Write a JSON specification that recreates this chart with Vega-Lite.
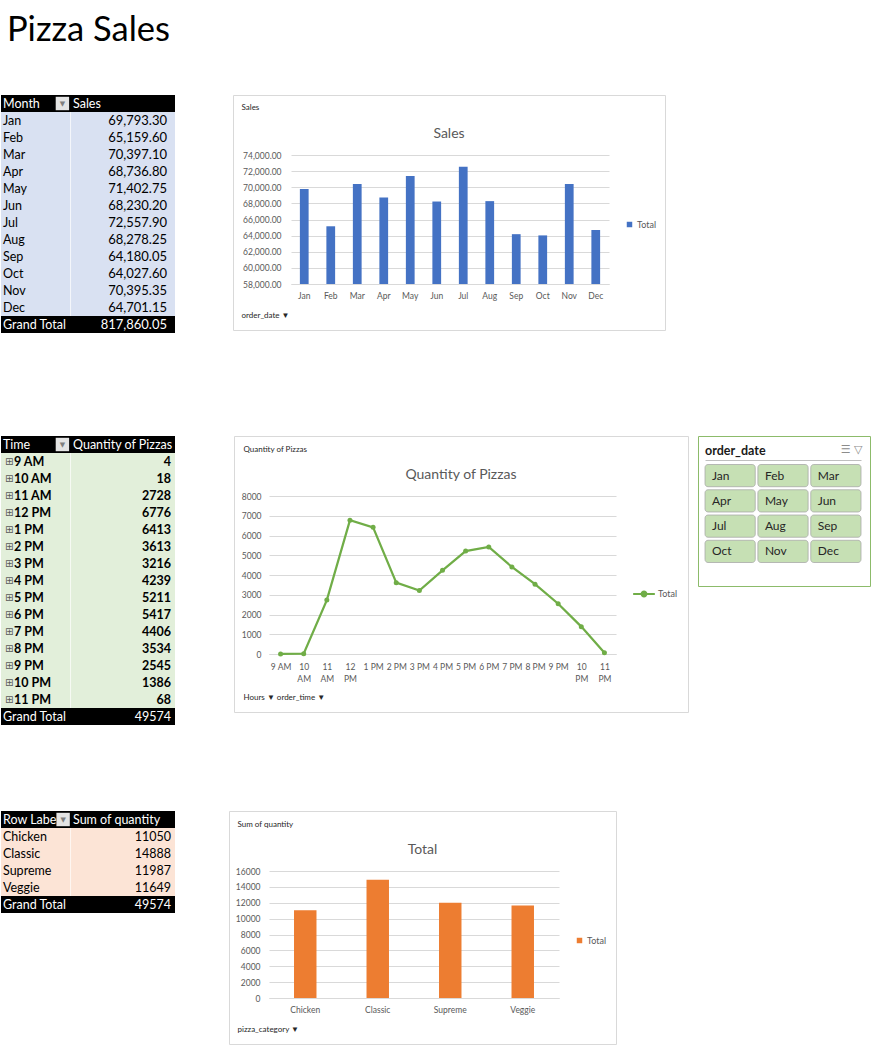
{
  "$schema": "https://vega.github.io/schema/vega-lite/v6.json",
  "background": "white",
  "padding": {"left": 1, "top": 13, "right": 0, "bottom": 0},
  "title": {"text": "Pizza Sales", "anchor": "start", "frame": "group", "dx": 6, "fontSize": 34.5, "font": "Lato", "fontWeight": "normal", "color": "#000000", "baseline": "alphabetic", "offset": 19},
  "config": {"view": {"stroke": null}, "font": "Lato", "axis": {"labelFont": "Lato", "titleFont": "Lato"}, "legend": {"labelFont": "Lato"}, "title": {"font": "Lato"}},
  "datasets": {
    "salesTable": [
      {"row": "Month", "kind": "header"},
      {"row": "Jan", "kind": "body", "value": 69793.30, "quarter": "Q1", "monthInQuarter": 1},
      {"row": "Feb", "kind": "body", "value": 65159.60, "quarter": "Q1", "monthInQuarter": 2},
      {"row": "Mar", "kind": "body", "value": 70397.10, "quarter": "Q1", "monthInQuarter": 3},
      {"row": "Apr", "kind": "body", "value": 68736.80, "quarter": "Q2", "monthInQuarter": 1},
      {"row": "May", "kind": "body", "value": 71402.75, "quarter": "Q2", "monthInQuarter": 2},
      {"row": "Jun", "kind": "body", "value": 68230.20, "quarter": "Q2", "monthInQuarter": 3},
      {"row": "Jul", "kind": "body", "value": 72557.90, "quarter": "Q3", "monthInQuarter": 1},
      {"row": "Aug", "kind": "body", "value": 68278.25, "quarter": "Q3", "monthInQuarter": 2},
      {"row": "Sep", "kind": "body", "value": 64180.05, "quarter": "Q3", "monthInQuarter": 3},
      {"row": "Oct", "kind": "body", "value": 64027.60, "quarter": "Q4", "monthInQuarter": 1},
      {"row": "Nov", "kind": "body", "value": 70395.35, "quarter": "Q4", "monthInQuarter": 2},
      {"row": "Dec", "kind": "body", "value": 64701.15, "quarter": "Q4", "monthInQuarter": 3},
      {"row": "Grand Total", "kind": "total", "value": 817860.05}
    ],
    "hourTable": [
      {"row": "Time", "kind": "header"},
      {"row": "9 AM", "kind": "body", "value": 4},
      {"row": "10 AM", "kind": "body", "value": 18},
      {"row": "11 AM", "kind": "body", "value": 2728},
      {"row": "12 PM", "kind": "body", "value": 6776},
      {"row": "1 PM", "kind": "body", "value": 6413},
      {"row": "2 PM", "kind": "body", "value": 3613},
      {"row": "3 PM", "kind": "body", "value": 3216},
      {"row": "4 PM", "kind": "body", "value": 4239},
      {"row": "5 PM", "kind": "body", "value": 5211},
      {"row": "6 PM", "kind": "body", "value": 5417},
      {"row": "7 PM", "kind": "body", "value": 4406},
      {"row": "8 PM", "kind": "body", "value": 3534},
      {"row": "9 PM", "kind": "body", "value": 2545},
      {"row": "10 PM", "kind": "body", "value": 1386},
      {"row": "11 PM", "kind": "body", "value": 68},
      {"row": "Grand Total", "kind": "total", "value": 49574}
    ],
    "categoryTable": [
      {"row": "Row Labels", "kind": "header"},
      {"row": "Chicken", "kind": "body", "value": 11050},
      {"row": "Classic", "kind": "body", "value": 14888},
      {"row": "Supreme", "kind": "body", "value": 11987},
      {"row": "Veggie", "kind": "body", "value": 11649},
      {"row": "Grand Total", "kind": "total", "value": 49574}
    ]
  },
  "resolve": {"scale": {"x": "independent", "y": "independent", "color": "independent"}, "legend": {"color": "independent"}, "axis": {"x": "independent", "y": "independent"}},
  "spacing": 102,
  "vconcat": [
    {
      "spacing": 57,
      "resolve": {"scale": {"x": "independent", "y": "independent", "color": "independent"}, "legend": {"color": "independent"}, "axis": {"x": "independent", "y": "independent"}},
      "hconcat": [
        {
          "spacing": 0,
          "resolve": {"scale": {"x": "independent", "y": "independent", "color": "independent"}, "axis": {"x": "independent", "y": "independent"}},
          "hconcat": [
            {
              "width": 69, "height": 238,
              "data": {"name": "salesTable"},
              "encoding": {"y": {"field": "row", "type": "nominal", "sort": null, "axis": null, "scale": {"paddingInner": 0, "paddingOuter": 0}}},
              "layer": [
                {"mark": {"type": "rect"}, "encoding": {"x": {"datum": 1, "type": "quantitative", "scale": {"domain": [1, 2]}, "axis": null}, "x2": {"datum": 2}, "fill": {"condition": {"test": "datum.kind == 'body'", "value": "#d9e1f2"}, "value": "#000000"}}},
                {"mark": {"type": "text", "align": "left", "baseline": "middle", "dx": 2, "fontSize": 12.5, "font": "Lato"}, "encoding": {"x": {"datum": 1, "type": "quantitative"}, "text": {"field": "row"}, "color": {"condition": {"test": "datum.kind == 'body'", "value": "#000000"}, "value": "#ffffff"}}},
                {"transform": [{"filter": "datum.kind == 'header'"}], "mark": {"type": "point", "shape": "square", "filled": true, "size": 180, "color": "#e4e4e4", "opacity": 1}, "encoding": {"x": {"datum": 1.89, "type": "quantitative"}}},
                {"transform": [{"filter": "datum.kind == 'header'"}], "mark": {"type": "text", "text": "▼", "fontSize": 7, "color": "#7f7f7f", "baseline": "middle", "font": "DejaVu Sans"}, "encoding": {"x": {"datum": 1.89, "type": "quantitative"}}}
              ]
            },
            {
              "width": 105, "height": 238,
              "data": {"name": "salesTable"},
              "encoding": {"y": {"field": "row", "type": "nominal", "sort": null, "axis": null, "scale": {"paddingInner": 0, "paddingOuter": 0}}},
              "layer": [
                {"mark": {"type": "rect"}, "encoding": {"x": {"datum": 1, "type": "quantitative", "scale": {"domain": [1, 2]}, "axis": null}, "x2": {"datum": 2}, "fill": {"condition": {"test": "datum.kind == 'body'", "value": "#d9e1f2"}, "value": "#000000"}}},
                {"transform": [{"filter": "datum.kind == 'body'"}], "mark": {"type": "rect", "fill": "#f4f6fb"}, "encoding": {"x": {"datum": 1, "type": "quantitative"}, "x2": {"datum": 1.01}}},
                {"transform": [{"filter": "datum.kind == 'header'"}], "mark": {"type": "text", "text": "Sales", "align": "left", "baseline": "middle", "dx": 3, "fontSize": 12.5, "color": "#ffffff", "font": "Lato"}, "encoding": {"x": {"datum": 1, "type": "quantitative"}}},
                {"transform": [{"filter": "datum.kind != 'header'"}], "mark": {"type": "text", "align": "right", "baseline": "middle", "dx": -8, "fontSize": 13, "font": "Lato"}, "encoding": {"x": {"datum": 2, "type": "quantitative"}, "text": {"field": "value", "type": "quantitative", "format": ",.2f"}, "color": {"condition": {"test": "datum.kind == 'body'", "value": "#000000"}, "value": "#ffffff"}}}
              ]
            }
          ]
        },
        {
          "width": 432, "height": 235,
          "view": {"stroke": "#d9d9d9", "fill": "white"},
          "title": {"text": "Sales", "fontSize": 14, "color": "#595959", "font": "Lato", "fontWeight": "normal", "anchor": "middle", "frame": "group", "baseline": "middle", "offset": -53},
          "data": {"name": "salesTable"},
          "transform": [{"filter": "datum.kind == 'body'"}],
          "mark": {"type": "bar", "color": "#4472c4", "width": {"band": 0.33}},
          "encoding": {
            "x": {"field": "row", "type": "nominal", "sort": null, "scale": {"range": [58, 376], "paddingInner": 0, "paddingOuter": 0},
              "axis": {"orient": "bottom", "offset": -46, "domain": true, "domainColor": "#d9d9d9", "ticks": false, "tickSize": 0, "labelPadding": 7, "labelFontSize": 8.5, "labelColor": "#595959", "labelAngle": 0, "grid": false,
                "title": "order_date  ▼", "titleX": 8, "titleY": 31, "titleAlign": "left", "titleBaseline": "middle", "titleFontSize": 8, "titleFontWeight": "normal", "titleColor": "#262626"}},
            "y": {"field": "value", "type": "quantitative", "scale": {"domain": [58000, 74000], "range": [189, 60], "nice": false, "zero": false},
              "axis": {"orient": "left", "offset": -58, "domain": false, "ticks": false, "tickSize": 0, "labelPadding": 10, "values": [58000, 60000, 62000, 64000, 66000, 68000, 70000, 72000, 74000], "format": ",.2f", "labelFontSize": 8.5, "labelColor": "#595959", "grid": true, "gridColor": "#d9d9d9", "gridWidth": 1,
                "title": "Sales", "titleAngle": 0, "titleX": -50, "titleY": 12.5, "titleAlign": "left", "titleBaseline": "middle", "titleFontSize": 8, "titleFontWeight": "normal", "titleColor": "#262626"}},
            "y2": {"datum": 58000},
            "color": {"datum": "Total", "scale": {"range": ["#4472c4"]}, "legend": {"orient": "none", "legendX": 392, "legendY": 125, "symbolType": "square", "symbolSize": 30, "labelFontSize": 9, "labelColor": "#595959", "labelOffset": 3, "title": null, "padding": 0}}
          }
        }
      ]
    },
    {
      "spacing": 85,
      "resolve": {"scale": {"x": "independent", "y": "independent", "color": "independent"}, "legend": {"color": "independent"}, "axis": {"x": "independent", "y": "independent"}},
      "vconcat": [
        {
          "spacing": 58,
          "resolve": {"scale": {"x": "independent", "y": "independent", "color": "independent"}, "legend": {"color": "independent"}, "axis": {"x": "independent", "y": "independent"}},
          "hconcat": [
            {
              "spacing": 0,
              "resolve": {"scale": {"x": "independent", "y": "independent", "color": "independent"}, "axis": {"x": "independent", "y": "independent"}},
              "hconcat": [
                {
                  "width": 69, "height": 289,
                  "data": {"name": "hourTable"},
                  "encoding": {"y": {"field": "row", "type": "nominal", "sort": null, "axis": null, "scale": {"paddingInner": 0, "paddingOuter": 0}}},
                  "layer": [
                    {"mark": {"type": "rect"}, "encoding": {"x": {"datum": 1, "type": "quantitative", "scale": {"domain": [1, 2]}, "axis": null}, "x2": {"datum": 2}, "fill": {"condition": {"test": "datum.kind == 'body'", "value": "#e2efda"}, "value": "#000000"}}},
                    {"transform": [{"filter": "datum.kind != 'body'"}], "mark": {"type": "text", "align": "left", "baseline": "middle", "dx": 2, "fontSize": 12.5, "color": "#ffffff", "font": "Lato"}, "encoding": {"x": {"datum": 1, "type": "quantitative"}, "text": {"field": "row"}}},
                    {"transform": [{"filter": "datum.kind == 'body'"}], "mark": {"type": "text", "text": "⊞", "align": "left", "baseline": "middle", "dx": 4, "fontSize": 10, "color": "#595959", "font": "DejaVu Sans"}, "encoding": {"x": {"datum": 1, "type": "quantitative"}}},
                    {"transform": [{"filter": "datum.kind == 'body'"}], "mark": {"type": "text", "align": "left", "baseline": "middle", "dx": 13, "fontSize": 12.5, "fontWeight": "bold", "color": "#000000", "font": "Lato"}, "encoding": {"x": {"datum": 1, "type": "quantitative"}, "text": {"field": "row"}}},
                    {"transform": [{"filter": "datum.kind == 'header'"}], "mark": {"type": "point", "shape": "square", "filled": true, "size": 180, "color": "#e4e4e4", "opacity": 1}, "encoding": {"x": {"datum": 1.89, "type": "quantitative"}}},
                    {"transform": [{"filter": "datum.kind == 'header'"}], "mark": {"type": "text", "text": "▼", "fontSize": 7, "color": "#7f7f7f", "baseline": "middle", "font": "DejaVu Sans"}, "encoding": {"x": {"datum": 1.89, "type": "quantitative"}}}
                  ]
                },
                {
                  "width": 105, "height": 289,
                  "data": {"name": "hourTable"},
                  "encoding": {"y": {"field": "row", "type": "nominal", "sort": null, "axis": null, "scale": {"paddingInner": 0, "paddingOuter": 0}}},
                  "layer": [
                    {"mark": {"type": "rect"}, "encoding": {"x": {"datum": 1, "type": "quantitative", "scale": {"domain": [1, 2]}, "axis": null}, "x2": {"datum": 2}, "fill": {"condition": {"test": "datum.kind == 'body'", "value": "#e2efda"}, "value": "#000000"}}},
                    {"transform": [{"filter": "datum.kind == 'body'"}], "mark": {"type": "rect", "fill": "#f6faf3"}, "encoding": {"x": {"datum": 1, "type": "quantitative"}, "x2": {"datum": 1.01}}},
                    {"transform": [{"filter": "datum.kind == 'header'"}], "mark": {"type": "text", "text": "Quantity of Pizzas", "align": "left", "baseline": "middle", "dx": 3, "fontSize": 12.5, "color": "#ffffff", "font": "Lato"}, "encoding": {"x": {"datum": 1, "type": "quantitative"}}},
                    {"transform": [{"filter": "datum.kind == 'body'"}], "mark": {"type": "text", "align": "right", "baseline": "middle", "dx": -4, "fontSize": 12.5, "fontWeight": "bold", "color": "#000000", "font": "Lato"}, "encoding": {"x": {"datum": 2, "type": "quantitative"}, "text": {"field": "value", "type": "quantitative", "format": "d"}}},
                    {"transform": [{"filter": "datum.kind == 'total'"}], "mark": {"type": "text", "align": "right", "baseline": "middle", "dx": -4, "fontSize": 12.5, "color": "#ffffff", "font": "Lato"}, "encoding": {"x": {"datum": 2, "type": "quantitative"}, "text": {"field": "value", "type": "quantitative", "format": "d"}}}
                  ]
                }
              ]
            },
            {
              "spacing": 8,
              "resolve": {"scale": {"x": "independent", "y": "independent", "color": "independent"}, "legend": {"color": "independent"}, "axis": {"x": "independent", "y": "independent"}},
              "hconcat": [
                {
                  "width": 454, "height": 276,
                  "view": {"stroke": "#d9d9d9", "fill": "white"},
                  "title": {"text": "Quantity of Pizzas", "fontSize": 14, "color": "#595959", "font": "Lato", "fontWeight": "normal", "anchor": "middle", "frame": "group", "baseline": "middle", "offset": -53},
                  "data": {"name": "hourTable"},
                  "transform": [{"filter": "datum.kind == 'body'"}],
                  "mark": {"type": "line", "color": "#70ad47", "strokeWidth": 2.25, "point": {"filled": true, "size": 25, "color": "#70ad47"}},
                  "encoding": {
                    "x": {"field": "row", "type": "nominal", "sort": null, "scale": {"type": "point", "range": [35, 382], "padding": 0.5},
                      "axis": {"orient": "bottom", "offset": -58, "domain": true, "domainColor": "#d9d9d9", "ticks": false, "tickSize": 0, "labelPadding": 8, "labelFontSize": 8.5, "labelColor": "#595959", "labelAngle": 0, "labelOverlap": false, "labelFlush": false, "labelLineHeight": 12, "grid": false,
                        "labelExpr": "length(datum.label) > 4 ? split(datum.label, ' ') : datum.label",
                        "title": "Hours  ▼     order_time  ▼", "titleX": 9, "titleY": 43, "titleAlign": "left", "titleBaseline": "middle", "titleFontSize": 8, "titleFontWeight": "normal", "titleColor": "#262626"}},
                    "y": {"field": "value", "type": "quantitative", "scale": {"domain": [0, 8000], "range": [218, 60], "nice": false},
                      "axis": {"orient": "left", "offset": -35, "domain": false, "ticks": false, "tickSize": 0, "labelPadding": 8, "values": [0, 1000, 2000, 3000, 4000, 5000, 6000, 7000, 8000], "format": "d", "labelFontSize": 8.5, "labelColor": "#595959", "grid": true, "gridColor": "#d9d9d9", "gridWidth": 1,
                        "title": "Quantity of Pizzas", "titleAngle": 0, "titleX": -26, "titleY": 13, "titleAlign": "left", "titleBaseline": "middle", "titleFontSize": 8, "titleFontWeight": "normal", "titleColor": "#262626"}},
                    "color": {"datum": "Total", "scale": {"range": ["#70ad47"]}, "legend": {"orient": "none", "legendX": 398, "legendY": 146, "symbolType": "M-1,0L1,0M0.22,0A0.22,0.22,0,1,1,-0.22,0A0.22,0.22,0,1,1,0.22,0", "symbolSize": 470, "symbolStrokeWidth": 2, "symbolFillColor": "#70ad47", "labelFontSize": 9, "labelColor": "#595959", "labelOffset": 2, "title": null, "padding": 0}}
                  }
                },
                {
                  "width": 172, "height": 150,
                  "view": {"stroke": "#8cbb6a", "fill": "white"},
                  "title": {"text": "order_date", "anchor": "start", "frame": "group", "dx": 7, "offset": -27, "baseline": "middle", "fontSize": 12.5, "fontWeight": "bold", "color": "#1a1a1a", "font": "Lato"},
                  "data": {"name": "salesTable"},
                  "transform": [{"filter": "datum.kind == 'body'"}],
                  "encoding": {
                    "x": {"field": "monthInQuarter", "type": "ordinal", "scale": {"range": [7, 163], "paddingInner": 0.05, "paddingOuter": 0},
                      "axis": {"orient": "top", "offset": -24, "domain": true, "domainColor": "#bfbfbf", "labels": false, "ticks": false, "grid": false,
                        "title": "☰   ▽", "titleX": 164, "titleY": -11, "titleAlign": "right", "titleBaseline": "middle", "titleFont": "DejaVu Sans", "titleFontSize": 11, "titleFontWeight": "normal", "titleColor": "#8c8c8c"}},
                    "y": {"field": "quarter", "type": "ordinal", "scale": {"range": [28.5, 126.5], "paddingInner": 0.12, "paddingOuter": 0}, "axis": null}
                  },
                  "layer": [
                    {"mark": {"type": "rect", "cornerRadius": 3, "fill": "#c6e0b4", "stroke": "#a5a5a5", "strokeWidth": 0.75}},
                    {"mark": {"type": "text", "align": "left", "baseline": "middle", "dx": 7, "fontSize": 12, "color": "#262626", "font": "Lato"}, "encoding": {"x": {"field": "monthInQuarter", "type": "ordinal", "bandPosition": 0}, "text": {"field": "row"}}}
                  ]
                }
              ]
            }
          ]
        },
        {
          "spacing": 53,
          "resolve": {"scale": {"x": "independent", "y": "independent", "color": "independent"}, "legend": {"color": "independent"}, "axis": {"x": "independent", "y": "independent"}},
          "hconcat": [
            {
              "spacing": 0,
              "resolve": {"scale": {"x": "independent", "y": "independent", "color": "independent"}, "axis": {"x": "independent", "y": "independent"}},
              "hconcat": [
                {
                  "width": 69, "height": 102,
                  "data": {"name": "categoryTable"},
                  "encoding": {"y": {"field": "row", "type": "nominal", "sort": null, "axis": null, "scale": {"paddingInner": 0, "paddingOuter": 0}}},
                  "layer": [
                    {"mark": {"type": "rect"}, "encoding": {"x": {"datum": 1, "type": "quantitative", "scale": {"domain": [1, 2]}, "axis": null}, "x2": {"datum": 2}, "fill": {"condition": {"test": "datum.kind == 'body'", "value": "#fce4d6"}, "value": "#000000"}}},
                    {"transform": [{"filter": "datum.kind != 'header'"}], "mark": {"type": "text", "align": "left", "baseline": "middle", "dx": 2, "fontSize": 12.5, "font": "Lato"}, "encoding": {"x": {"datum": 1, "type": "quantitative"}, "text": {"field": "row"}, "color": {"condition": {"test": "datum.kind == 'body'", "value": "#000000"}, "value": "#ffffff"}}},
                    {"transform": [{"filter": "datum.kind == 'header'"}], "mark": {"type": "text", "align": "left", "baseline": "middle", "dx": 2, "fontSize": 12.5, "font": "Lato", "color": "#ffffff", "limit": 54, "ellipsis": "\u200b"}, "encoding": {"x": {"datum": 1, "type": "quantitative"}, "text": {"field": "row"}}},
                    {"transform": [{"filter": "datum.kind == 'header'"}], "mark": {"type": "point", "shape": "square", "filled": true, "size": 180, "color": "#e4e4e4", "opacity": 1}, "encoding": {"x": {"datum": 1.9, "type": "quantitative"}}},
                    {"transform": [{"filter": "datum.kind == 'header'"}], "mark": {"type": "text", "text": "▼", "fontSize": 7, "color": "#7f7f7f", "baseline": "middle", "font": "DejaVu Sans"}, "encoding": {"x": {"datum": 1.9, "type": "quantitative"}}}
                  ]
                },
                {
                  "width": 105, "height": 102,
                  "data": {"name": "categoryTable"},
                  "encoding": {"y": {"field": "row", "type": "nominal", "sort": null, "axis": null, "scale": {"paddingInner": 0, "paddingOuter": 0}}},
                  "layer": [
                    {"mark": {"type": "rect"}, "encoding": {"x": {"datum": 1, "type": "quantitative", "scale": {"domain": [1, 2]}, "axis": null}, "x2": {"datum": 2}, "fill": {"condition": {"test": "datum.kind == 'body'", "value": "#fce4d6"}, "value": "#000000"}}},
                    {"transform": [{"filter": "datum.kind == 'body'"}], "mark": {"type": "rect", "fill": "#fef6f1"}, "encoding": {"x": {"datum": 1, "type": "quantitative"}, "x2": {"datum": 1.01}}},
                    {"transform": [{"filter": "datum.kind == 'header'"}], "mark": {"type": "text", "text": "Sum of quantity", "align": "left", "baseline": "middle", "dx": 3, "fontSize": 12.5, "color": "#ffffff", "font": "Lato"}, "encoding": {"x": {"datum": 1, "type": "quantitative"}}},
                    {"transform": [{"filter": "datum.kind != 'header'"}], "mark": {"type": "text", "align": "right", "baseline": "middle", "dx": -4, "fontSize": 12.5, "font": "Lato"}, "encoding": {"x": {"datum": 2, "type": "quantitative"}, "text": {"field": "value", "type": "quantitative", "format": "d"}, "color": {"condition": {"test": "datum.kind == 'body'", "value": "#000000"}, "value": "#ffffff"}}}
                  ]
                }
              ]
            },
            {
              "width": 387, "height": 233,
              "view": {"stroke": "#d9d9d9", "fill": "white"},
              "title": {"text": "Total", "fontSize": 14, "color": "#595959", "font": "Lato", "fontWeight": "normal", "anchor": "middle", "frame": "group", "baseline": "middle", "offset": -53},
              "data": {"name": "categoryTable"},
              "transform": [{"filter": "datum.kind == 'body'"}],
              "mark": {"type": "bar", "color": "#ed7d31", "width": {"band": 0.31}},
              "encoding": {
                "x": {"field": "row", "type": "nominal", "sort": null, "scale": {"range": [40, 330], "paddingInner": 0, "paddingOuter": 0},
                  "axis": {"orient": "bottom", "offset": -46, "domain": true, "domainColor": "#d9d9d9", "ticks": false, "tickSize": 0, "labelPadding": 7, "labelFontSize": 8.5, "labelColor": "#595959", "labelAngle": 0, "grid": false,
                    "title": "pizza_category  ▼", "titleX": 8, "titleY": 31, "titleAlign": "left", "titleBaseline": "middle", "titleFontSize": 8, "titleFontWeight": "normal", "titleColor": "#262626"}},
                "y": {"field": "value", "type": "quantitative", "scale": {"domain": [0, 16000], "range": [187, 60], "nice": false},
                  "axis": {"orient": "left", "offset": -40, "domain": false, "ticks": false, "tickSize": 0, "labelPadding": 9, "values": [0, 2000, 4000, 6000, 8000, 10000, 12000, 14000, 16000], "format": "d", "labelFontSize": 8.5, "labelColor": "#595959", "grid": true, "gridColor": "#d9d9d9", "gridWidth": 1,
                    "title": "Sum of quantity", "titleAngle": 0, "titleX": -32, "titleY": 13.5, "titleAlign": "left", "titleBaseline": "middle", "titleFontSize": 8, "titleFontWeight": "normal", "titleColor": "#262626"}},
                "color": {"datum": "Total", "scale": {"range": ["#ed7d31"]}, "legend": {"orient": "none", "legendX": 346, "legendY": 125, "symbolType": "square", "symbolSize": 30, "labelFontSize": 9, "labelColor": "#595959", "labelOffset": 3, "title": null, "padding": 0}}
              }
            }
          ]
        }
      ]
    }
  ]
}
